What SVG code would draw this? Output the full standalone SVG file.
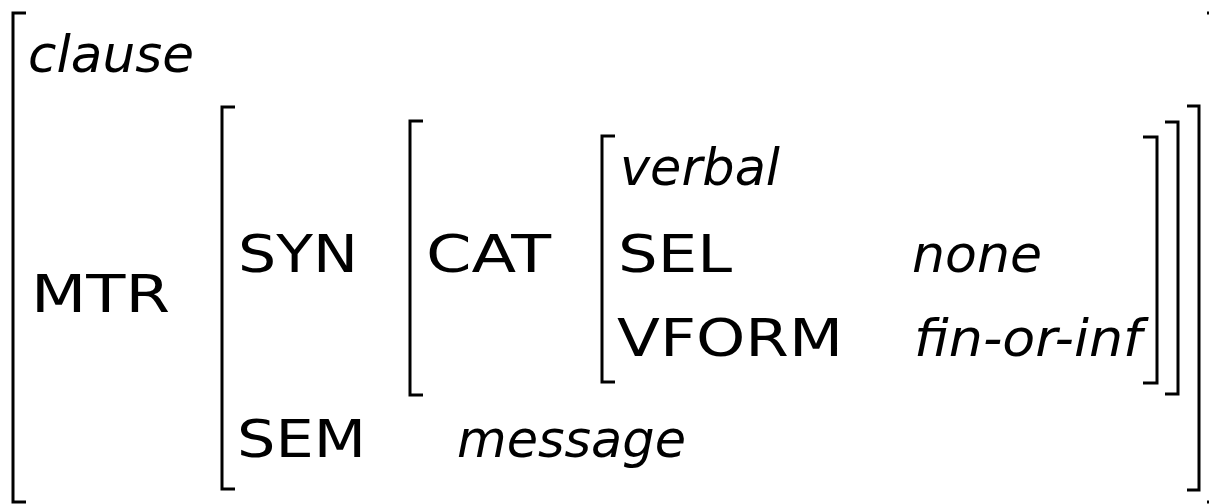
<svg xmlns="http://www.w3.org/2000/svg" width="1209" height="504" viewBox="0 0 1209 504">
  <style>
    .br { fill: none; stroke: #000; stroke-width: 3; stroke-linejoin: miter; stroke-linecap: butt; }
    text { font-family: "DejaVu Sans", "Liberation Sans", sans-serif; font-size: 51px; fill: #000; }
    .val { font-style: italic; }
  </style>
  <rect width="1209" height="504" fill="#fff"/>

  <!-- outer matrix: clause -->
  <g id="avm-clause">
    <path class="br" d="M26,13 H13 V502 H26"/>
    <path class="br" d="M1207,13 H1221 V502 H1207"/>
    <text class="val" x="28" y="72" textLength="166" lengthAdjust="spacingAndGlyphs">clause</text>
    <text x="31" y="312" textLength="139" lengthAdjust="spacingAndGlyphs">MTR</text>
  </g>

  <!-- MTR value -->
  <g id="avm-mtr">
    <path class="br" d="M235,107 H222 V489 H235"/>
    <path class="br" d="M1187,106 H1199 V490 H1187"/>
    <text x="238" y="272" textLength="120" lengthAdjust="spacingAndGlyphs">SYN</text>
    <text x="237" y="457" textLength="129" lengthAdjust="spacingAndGlyphs">SEM</text>
    <text class="val" x="457" y="457" textLength="229" lengthAdjust="spacingAndGlyphs">message</text>
  </g>

  <!-- SYN value -->
  <g id="avm-syn">
    <path class="br" d="M423,121 H410 V395 H423"/>
    <path class="br" d="M1165,122 H1178 V394 H1165"/>
    <text x="426" y="272" textLength="125" lengthAdjust="spacingAndGlyphs">CAT</text>
  </g>

  <!-- CAT value -->
  <g id="avm-cat">
    <path class="br" d="M615,136 H602 V382 H615"/>
    <path class="br" d="M1143,137 H1157 V383 H1143"/>
    <text class="val" x="620" y="185" textLength="160" lengthAdjust="spacingAndGlyphs">verbal</text>
    <text x="618" y="272" textLength="114" lengthAdjust="spacingAndGlyphs">SEL</text>
    <text class="val" x="912" y="272" textLength="130" lengthAdjust="spacingAndGlyphs">none</text>
    <text x="617" y="356" textLength="226" lengthAdjust="spacingAndGlyphs">VFORM</text>
    <text class="val" x="914" y="356" textLength="228" lengthAdjust="spacingAndGlyphs">fin-or-inf</text>
  </g>
</svg>
